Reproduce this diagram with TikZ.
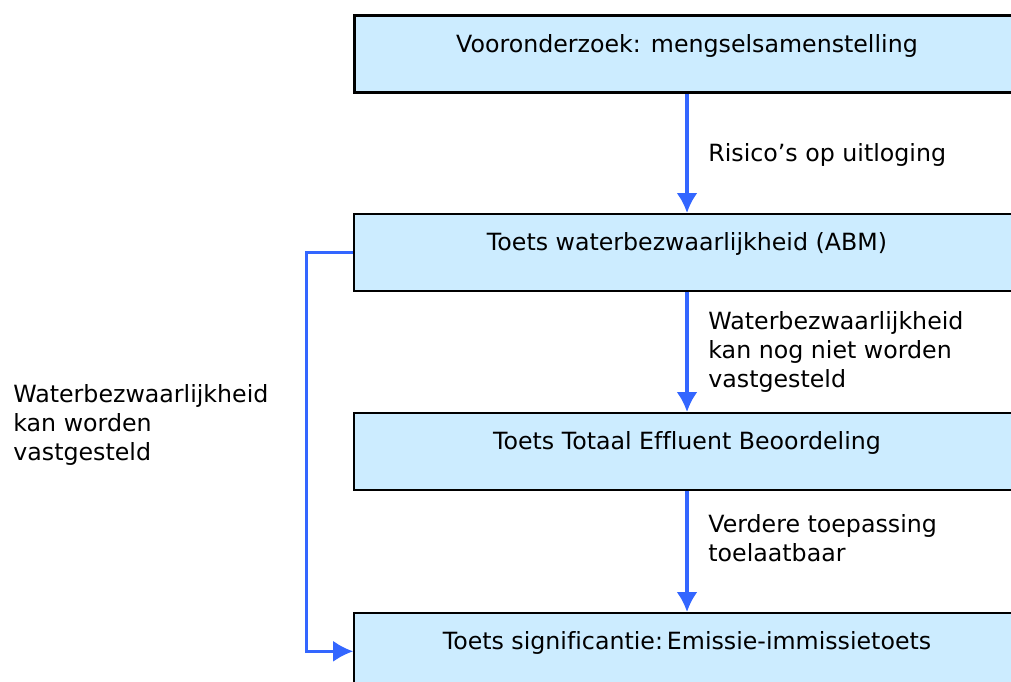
\documentclass[tikz,border=0pt]{standalone}
\usepackage{fontspec}
\setmainfont{DejaVu Sans}[Ligatures=CommonOff]
\usetikzlibrary{arrows.meta,positioning}

\definecolor{blokfill}{HTML}{CCECFF}
\definecolor{pijlblauw}{HTML}{3366FF}

\begin{document}
\begin{tikzpicture}[x=0.5pt,y=-0.5pt,>={Latex[length=10pt,width=10.5pt]},
	blok/.style={draw=black,fill=blokfill,line width=0.8pt,anchor=north,
		minimum width=333pt,inner xsep=0pt,inner ysep=0pt,
		text height=18.3pt,text depth=20.2pt,
		font=\fontsize{11.85pt}{14.5pt}\selectfont},
	pijl/.style={->,draw=pijlblauw,line width=1.6pt},
	uitleg/.style={align=left,inner sep=0pt,
		font=\fontsize{11.85pt}{14.5pt}\selectfont}]
		% fix the size of the picture
		\useasboundingbox (0,0) rectangle (1011,681);

		% draw the first box
		\node[blok,line width=1.5pt] (b1) at (687,14) {Vooronderzoek: mengselsamenstelling};

		% draw the other boxes
		\foreach \n/\y/\txt in {
		b2/213/Toets waterbezwaarlijkheid (ABM),
		b3/412/Toets Totaal Effluent Beoordeling,
		b4/612/Toets significantie:\,Emissie-immissietoets}
			\node[blok] (\n) at (687,\y) {\txt};

		% arrows between the boxes
		\draw[pijl] (b1) -- (b2);
		\draw[pijl] (b2) -- (b3);
		\draw[pijl] (b3) -- (b4);

		% the way round on the left
		\draw[pijl,line width=1.3pt] (b2.west) -- ++(-47,0) |- (b4.west);

		% labels next to the arrows
		\node[uitleg,anchor=west] (risico) at (708,155) {Risico’s op uitloging};
		\node[uitleg,anchor=west] (nognniet) at (708,352) {Waterbezwaarlijkheid\\kan nog niet worden\\vastgesteld};
		\node[uitleg,anchor=west] (verdere) at (708,538) {Verdere toepassing\\toelaatbaar};
		\node[uitleg,anchor=west] (welvast) at (13,425) {Waterbezwaarlijkheid\\kan worden\\vastgesteld};
	\end{tikzpicture}
\end{document}
